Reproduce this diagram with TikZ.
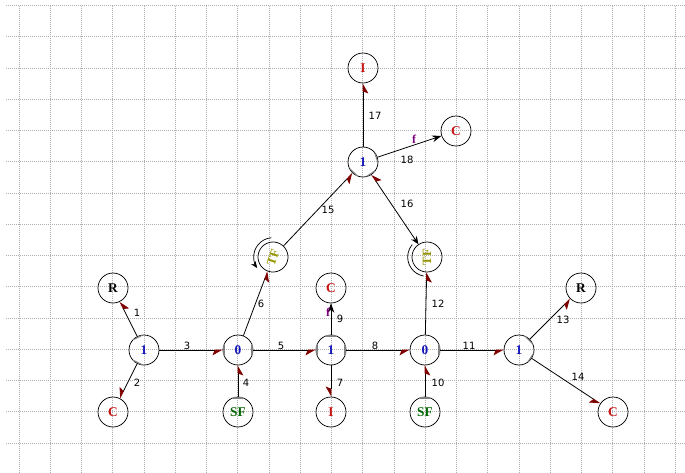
\documentclass[tikz,border=0pt]{standalone}
\usepackage{fontspec}
\setmainfont{Liberation Serif}
\newfontfamily\lblfont{DejaVu Sans}
\usetikzlibrary{arrows.meta,calc}
\definecolor{hred}{RGB}{128,0,0}
\definecolor{jblue}{RGB}{20,20,190}
\definecolor{ered}{RGB}{200,20,20}
\definecolor{sfgreen}{RGB}{0,100,0}
\definecolor{tfolive}{RGB}{150,150,0}
\definecolor{fpurple}{RGB}{128,0,128}
\definecolor{gridc}{RGB}{175,175,175}
\newcommand\mycstroke[2]{\draw[cst] ($(#1)!10.5pt!(#2)!3.8pt!90:(#2)$) -- ($(#1)!10.5pt!(#2)!3.8pt!-90:(#2)$);}
\begin{document}
\begin{tikzpicture}[x=0.75pt,y=0.75pt,
  el/.style={circle,draw,line width=0.55pt,minimum size=22.5pt,inner sep=0pt,font=\fontsize{10}{11}\selectfont\bfseries},
  jn/.style={el,text=jblue},
  er/.style={el,text=ered},
  tf/.style={el,text=tfolive,font=\fontsize{9.5}{10}\selectfont\bfseries},
  bond/.style={line width=0.6pt,-{Stealth[length=7pt,width=8pt,inset=1.5pt,right,color=hred]}},
  sig/.style={line width=0.6pt,-{Stealth[length=7pt,width=5pt,color=black]}},
  lbl/.style={font=\lblfont\fontsize{7.5}{8}\selectfont,inner sep=0pt},
  cst/.style={gray,line width=0.8pt},
  tfarc/.style={line width=0.55pt},
  gridl/.style={gridc,densely dotted,line width=0.5pt}]
\useasboundingbox (0,0) rectangle (685,-472);
\fill[white] (0,0) rectangle (685,-472);
% grid
\foreach \i in {0,...,21} \draw[gridl] ({19+31.25*\i},-5.5) -- ({19+31.25*\i},-472);
\foreach \j in {0,...,14} \draw[gridl] (6,{-5.5-31.25*\j}) -- (685,{-5.5-31.25*\j});
% nodes
\node[jn] (1L) at (144,-350) {1};
\node[el] (RL) at (113,-288) {R};
\node[er] (CL) at (113,-412) {C};
\node[jn] (0L) at (238,-350) {0};
\node[el,text=sfgreen] (SFL) at (238,-412) {SF};
\node[jn] (1M) at (331,-350) {1};
\node[er] (CM) at (331,-288) {C};
\node[er] (IM) at (331,-412) {I};
\node[jn] (0R) at (425,-350) {0};
\node[el,text=sfgreen] (SFR) at (425,-412) {SF};
\node[jn] (1R) at (519,-350) {1};
\node[el] (RR) at (581,-288) {R};
\node[er] (CR) at (613,-412) {C};
\node[tf,rotate=71] (TFL) at (273,-257) {TF};
\node[tf,rotate=90] (TFR) at (427,-257) {TF};
\node[jn] (1T) at (363,-162) {1};
\node[er] (IT) at (363,-68) {I};
\node[er] (CT) at (456,-131) {C};
% bonds
\draw[bond] (1L) -- (RL);
\draw[bond] (1L) -- (CL);
\draw[bond] (1L) -- (0L);
\draw[bond] (SFL) -- (0L);
\draw[bond] (0L) -- (1M);
\draw[bond] (0L) -- (TFL);
\draw[bond] (1M) -- (IM);
\draw[bond] (1M) -- (0R);
\draw[sig] (1M) -- (CM);
\draw[bond] (SFR) -- (0R);
\draw[bond] (0R) -- (1R);
\draw[bond] (0R) -- (TFR);
\draw[bond] (1R) -- (RR);
\draw[bond] (1R) -- (CR);
\draw[bond] (TFL) -- (1T);
\draw[line width=0.6pt,{Stealth[length=6pt,width=5pt,color=black]}-{Stealth[length=7pt,width=8pt,inset=1.5pt,right,color=hred]}] (TFR) -- (1T);
\draw[bond] (1T) -- (IT);
\draw[sig] (1T) -- (CT);
% causal strokes
\mycstroke{1L}{RL}
\mycstroke{1L}{CL}
\mycstroke{0L}{1L}
\mycstroke{0L}{1M}
\mycstroke{1M}{0L}
\mycstroke{1M}{0R}
\mycstroke{1M}{CM}
\mycstroke{0R}{1R}
\mycstroke{1R}{RR}
\mycstroke{1R}{CR}
\mycstroke{1T}{TFL}
\mycstroke{1T}{TFR}
\mycstroke{1T}{CT}
\mycstroke{SFL}{0L}
\mycstroke{SFR}{0R}
% TF arcs
\draw[tfarc,-{Stealth[length=5pt,width=4pt]}] ($(TFL)+(95:14.5pt)$) arc[start angle=95,end angle=215,radius=14.5pt];
\draw[tfarc] ($(TFR)+(260:14.5pt)$) arc[start angle=260,end angle=140,radius=14.5pt];
% labels
\node[lbl] (l1) at (137,-313) {1};
\node[lbl] (l2) at (137,-383) {2};
\node[lbl] (l3) at (187,-346) {3};
\node[lbl] (l4) at (246,-383) {4};
\node[lbl] (l5) at (281,-346) {5};
\node[lbl] (l6) at (261,-304) {6};
\node[lbl] (l7) at (340,-383) {7};
\node[lbl] (l8) at (375,-346) {8};
\node[lbl] (l9) at (340,-319) {9};
\node[lbl] (l10) at (438,-383) {10};
\node[lbl] (l11) at (469,-346) {11};
\node[lbl] (l12) at (438,-304) {12};
\node[lbl] (l13) at (563,-320) {13};
\node[lbl] (l14) at (578,-377) {14};
\node[lbl] (l15) at (328,-210) {15};
\node[lbl] (l16) at (407,-204) {16};
\node[lbl] (l17) at (375,-116) {17};
\node[lbl] (l18) at (407,-160) {18};
\node[text=fpurple,font=\fontsize{9}{9}\selectfont\bfseries,inner sep=0pt] (f1) at (328,-312) {f};
\node[text=fpurple,font=\fontsize{9}{9}\selectfont\bfseries,inner sep=0pt] (f2) at (414,-139) {f};
\end{tikzpicture}
\end{document}
